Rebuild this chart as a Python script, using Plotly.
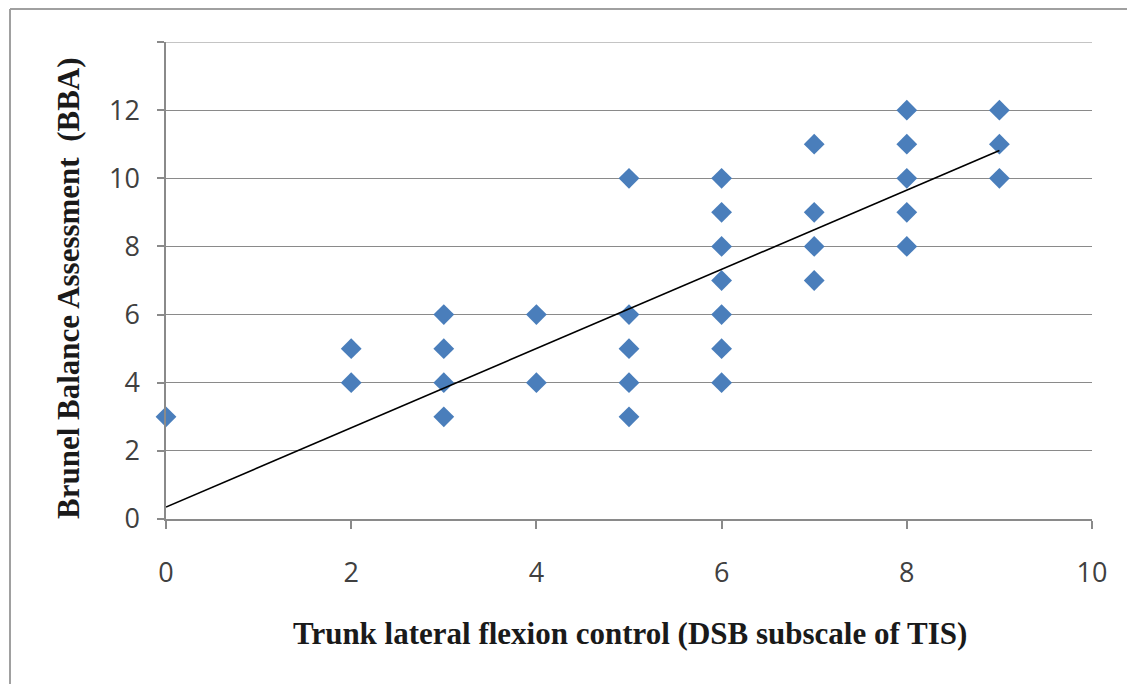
import plotly.graph_objects as go

# Data
dsb_x = [0, 2, 2, 3, 3, 3, 3, 4, 4, 5, 5, 5, 5, 5,
         6, 6, 6, 6, 6, 6, 6, 7, 7, 7, 7, 8, 8, 8, 8, 8, 9, 9, 9]
bba_y = [3, 4, 5, 3, 4, 5, 6, 4, 6, 3, 4, 5, 6, 10,
         4, 5, 6, 7, 8, 9, 10, 7, 8, 9, 11, 8, 9, 10, 11, 12, 10, 11, 12]

trend_intercept = 0.35
trend_slope = 1.163
trend_x = [0, 9]
trend_y = [trend_intercept + trend_slope * v for v in trend_x]

x_ticks = [0, 2, 4, 6, 8, 10]
y_ticks = [0, 2, 4, 6, 8, 10, 12, 14]
y_ticktext = ["0", "2", "4", "6", "8", "10", "12", ""]

OFF = 8  # page body margin
W, H = 1135 - OFF, 684 - OFF
L, T = 166 - OFF, 42 - OFF
R = W - (1092 - OFF)
B = H - (519 - OFF)
pw, ph = W - L - R, H - T - B

fig = go.Figure()
fig.add_trace(go.Scatter(
    x=dsb_x, y=bba_y, mode="markers",
    marker=dict(symbol="diamond", size=16, color="#4a7ebb", line=dict(width=0)),
    showlegend=False, cliponaxis=False))
fig.add_trace(go.Scatter(
    x=trend_x, y=trend_y, mode="lines",
    line=dict(color="black", width=1.6), showlegend=False))

tick_font = dict(family="Open Sans", size=27, color="#404040")
title_font = dict(family="Liberation Serif", size=31, color="#1a1a1a")

bx = (10 - OFF - L) / pw
by = 1 + (T - 1) / ph

fig.update_layout(
    width=W, height=H,
    margin=dict(l=L, r=R, t=T, b=B, pad=0),
    paper_bgcolor="white", plot_bgcolor="white",
    xaxis=dict(range=[0, 10], tickvals=x_ticks, showgrid=False,
               showline=True, linecolor="#8a8a8a", linewidth=1.5,
               ticks="outside", ticklen=8, tickcolor="#8a8a8a", tickwidth=1.5,
               tickfont=tick_font, ticklabelstandoff=21, zeroline=False),
    yaxis=dict(range=[0, 14], tickvals=y_ticks, ticktext=y_ticktext,
               showgrid=True, gridcolor="#8a8a8a", gridwidth=1.2,
               showline=True, linecolor="#8a8a8a", linewidth=1.5,
               ticks="outside", ticklen=7, tickcolor="#8a8a8a", tickwidth=1.5,
               tickfont=tick_font, ticklabelstandoff=12, zeroline=False),
    annotations=[
        dict(text="<b>Trunk lateral flexion control (DSB subscale of TIS)</b>",
             xref="paper", yref="paper", x=(630 - OFF - L) / pw,
             y=(H - B - (633 - OFF)) / ph,
             xanchor="center", yanchor="middle", showarrow=False, font=title_font),
        dict(text="<b>Brunel Balance Assessment  (BBA)</b>",
             xref="paper", yref="paper", x=(68 - OFF - L) / pw,
             y=(H - B - (288 - OFF)) / ph,
             xanchor="center", yanchor="middle", showarrow=False, textangle=-90,
             font=title_font),
    ],
    shapes=[
        dict(type="line", xref="paper", yref="paper",
             x0=bx, x1=1.3, y0=by, y1=by,
             line=dict(color="#a0a0a0", width=2), layer="below"),
        dict(type="line", xref="paper", yref="paper",
             x0=bx, x1=bx, y0=-0.6, y1=by,
             line=dict(color="#a0a0a0", width=2), layer="below"),
        dict(type="line", xref="paper", yref="y", x0=0, x1=1, y0=14, y1=14,
             line=dict(color="#8a8a8a", width=1.2), layer="below"),
    ],
)

fig.write_html("out.html")
